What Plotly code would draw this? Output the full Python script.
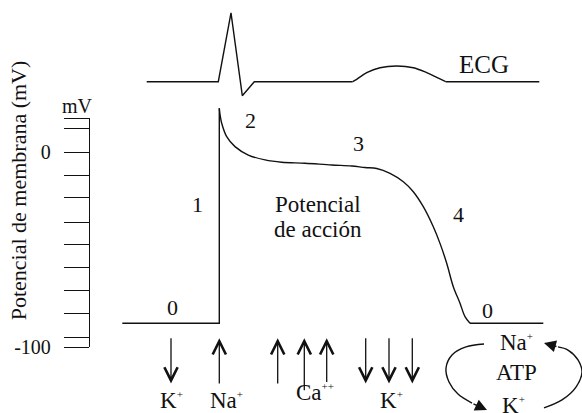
import plotly.graph_objects as go

FONT = "Liberation Serif"
INK = "#111111"

# ---- Action potential: time (ms, relative to upstroke) and membrane potential (mV)
AP_T = [-97, 0, 0, 0.9, 2.4, 7.4, 15.7, 29, 45.7, 62.4, 85.7, 112.4, 132.4, 145.7,
        157.4, 170.7, 184, 194, 204, 214, 220.7, 227.4, 234, 240.7, 245.7, 250.7, 324]
AP_MV = [-87.7, -87.7, 22.6, 18.8, 14.9, 8.0, 2.9, -1.4, -3.9, -5.1, -5.6, -6.5, -7.0, -7.8,
         -8.3, -10.8, -15.1, -20.2, -27.9, -38.2, -46.7, -56.9, -68.9, -77.4, -84.3, -87.7, -87.7]

# ---- ECG (same time base, amplitude relative to R peak)
ECG_T = [-72.6, -1.0, 11.7, 23.0, 35.0, 133.4, 137.4, 147.4, 160.7, 177.4, 194.0, 207.4,
         217.4, 226.4, 320.0]
ECG_A = [0, 0, 1.0, -0.203, 0, 0, 0.035, 0.131, 0.203, 0.228, 0.203, 0.131, 0.064, 0, 0]

# ---- membrane potential scale (mV)
SCALE_TICKS = [17.44, 12.1, 0, -11.8, -23.4, -35.8, -47.4, -59.0, -71.0, -82.9, -94.9, -100]
SCALE_LABELS = ["", "", "0", "", "", "", "", "", "", "", "", "-100"]

# ---- phase labels
PHASE_LABELS = ["0", "1", "2", "3", "4", "0"]
PHASE_T = [-46.8, -22.3, 30.7, 139.4, 238.7, 268.2]
PHASE_MV = [-79.6, -26.9, 16.3, 4.3, -31.8, -80.9]

# ---- ion currents (arrows: tail -> tip, mV)
ION_T = [-48.3, 0, 58.4, 85.0, 107.4, 146.4, 169.7, 193.0]
ION_TAIL = [-94.6, -119.3, -119.3, -122.8, -118.5, -94.6, -94.6, -94.6]
ION_TIP = [-118.5, -95.4, -95.4, -95.4, -95.4, -118.5, -118.5, -118.5]
SUP = '<sup><span style="font-size:11px">%s</span></sup>'
ION_LABELS = ["K" + SUP % "+", "Na" + SUP % "+", "Ca" + SUP % "++", "K" + SUP % "+"]
ION_LABEL_T = [-48.3, 7.4, 95.7, 171.7]
ION_LABEL_MV = [-127.3, -127.3, -123.1, -127.3]

# ---- Na/K pump cycle
PUMP_LABELS = ["Na" + SUP % "+", "ATP", "K" + SUP % "+"]
PUMP_T = [297.2, 297.2, 294.0]
PUMP_MV = [-97.6, -112.8, -129.7]
PUMP_LEFT_T = [264.7, 246.7, 232.7, 226.7, 229.7, 238.7, 252.7]
PUMP_LEFT_MV = [-98.3, -99.8, -103.9, -110.6, -117.8, -124.0, -128.6]
PUMP_RIGHT_T = [324.7, 342.7, 356.7, 362.7, 358.7, 348.7, 338.7]
PUMP_RIGHT_MV = [-131.1, -127.0, -120.4, -112.7, -106.5, -101.4, -99.8]
PUMP_HEADS = [(252.7, -128.6, 267.7, -132.2), (338.7, -99.8, 324.7, -97.8)]

fig = go.Figure()
line = dict(color=INK, width=1.4)

# action potential
fig.add_trace(go.Scatter(x=AP_T[0:3], y=AP_MV[0:3], mode="lines", line=line))
fig.add_trace(go.Scatter(x=AP_T[2:26], y=AP_MV[2:26], mode="lines",
                         line=dict(color=INK, width=1.4, shape="spline", smoothing=1.0)))
fig.add_trace(go.Scatter(x=AP_T[25:], y=AP_MV[25:], mode="lines", line=line))

# ECG
fig.add_trace(go.Scatter(x=ECG_T[0:6], y=ECG_A[0:6], mode="lines", line=line, yaxis="y2"))
fig.add_trace(go.Scatter(x=ECG_T[5:14], y=ECG_A[5:14], mode="lines", yaxis="y2",
                         line=dict(color=INK, width=1.4, shape="spline", smoothing=1.0)))
fig.add_trace(go.Scatter(x=ECG_T[13:], y=ECG_A[13:], mode="lines", line=line, yaxis="y2"))

# pump arcs
fig.add_trace(go.Scatter(x=PUMP_LEFT_T, y=PUMP_LEFT_MV, mode="lines",
                         line=dict(color=INK, width=1.4, shape="spline")))
fig.add_trace(go.Scatter(x=PUMP_RIGHT_T, y=PUMP_RIGHT_MV, mode="lines",
                         line=dict(color=INK, width=1.4, shape="spline")))

# invisible trace on scale axis so it renders
fig.add_trace(go.Scatter(x=[AP_T[0]], y=[0], mode="markers", marker=dict(opacity=0),
                         yaxis="y3", hoverinfo="skip"))

ann = []
def txt(x, y, s, size, **kw):
    ann.append(dict(x=x, y=y, xref="x", yref="y", text=s, showarrow=False,
                    font=dict(family=FONT, size=size, color=INK),
                    xanchor="center", yanchor="middle", **kw))

for s, t, v in zip(PHASE_LABELS, PHASE_T, PHASE_MV):
    txt(t, v, s, 22)
txt(264.2, 44.8, "ECG", 25)
txt(98.2, -27.0, "Potencial", 23)
txt(98.2, -39.4, "de acción", 23)
txt(-141.8, 23.8, "mV", 20)
txt(-201.3, -19.5, "Potencial de membrana (mV)", 22, textangle=-90)
for s, t, v in zip(ION_LABELS, ION_LABEL_T, ION_LABEL_MV):
    txt(t, v, s, 23)
for s, t, v in zip(PUMP_LABELS, PUMP_T, PUMP_MV):
    txt(t, v, s, 23)

for t, a, b in zip(ION_T, ION_TAIL, ION_TIP):
    ann.append(dict(x=t, y=b, ax=t, ay=a, xref="x", yref="y", axref="x", ayref="y",
                    text="", showarrow=True, arrowhead=5, arrowsize=2.0, arrowwidth=1.3,
                    arrowcolor=INK, standoff=0, startstandoff=0))
for (t0, v0, t1, v1) in PUMP_HEADS:
    ann.append(dict(x=t1, y=v1, ax=t0, ay=v0, xref="x", yref="y", axref="x", ayref="y",
                    text="", showarrow=True, arrowhead=2, arrowsize=1.7, arrowwidth=1.4,
                    arrowcolor=INK, standoff=0, startstandoff=0))

W, H = 582, 413
fig.update_layout(
    width=W, height=H, autosize=False,
    margin=dict(l=0, r=0, t=0, b=0, pad=0, autoexpand=False),
    paper_bgcolor="white", plot_bgcolor="rgba(0,0,0,0)", showlegend=False,
    font=dict(family=FONT, color=INK),
    xaxis=dict(range=[-219.3, 362.7], visible=False, domain=[0, 1], automargin=False),
    yaxis=dict(range=[-133.69, 78.10], visible=False, domain=[0, 1], automargin=False),
    yaxis2=dict(range=[-4.808, 1.186], visible=False, overlaying="y", automargin=False),
    yaxis3=dict(range=[-100.05, 17.5], anchor="free", position=89 / W, automargin=False,
                side="left", domain=[(H - 347.3) / H, (H - 118.3) / H],
                showline=True, linecolor=INK, linewidth=1.4, showgrid=False, zeroline=False,
                ticks="outside", ticklen=25, tickwidth=1.4, tickcolor=INK,
                ticklabelstandoff=9,
                tickmode="array", tickvals=SCALE_TICKS, ticktext=SCALE_LABELS,
                tickfont=dict(family=FONT, size=20, color=INK)),
    annotations=ann,
)
fig.write_html(
    "out.html",
    config={"displayModeBar": False},
    post_script=("document.body.style.margin='0px';"
                 "document.body.style.overflow='hidden';"
                 "document.documentElement.style.overflow='hidden';"),
)
